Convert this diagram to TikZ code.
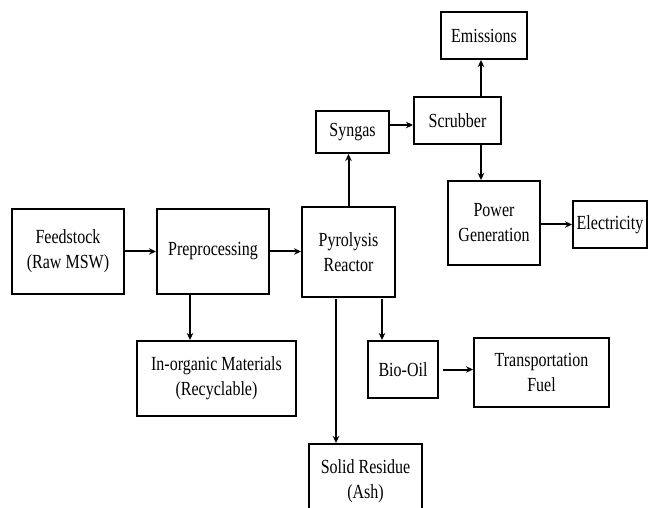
\documentclass[tikz,border=0pt]{standalone}
\usepackage{fontspec}
\setmainfont{Liberation Serif}[FakeStretch=0.8]
\usetikzlibrary{arrows.meta,calc}
\begin{document}
\begin{tikzpicture}[x=1pt,y=-1pt,
  box/.style={draw,line width=2pt,align=center,inner sep=0pt,
    font=\fontsize{20}{25}\selectfont},
  arr/.style={line width=2pt,-{Stealth[length=7pt,width=6.5pt]}},
  thinarr/.style={line width=1.5pt,-{Stealth[length=7pt,width=6.5pt]}}]
\useasboundingbox (0,0) rectangle (649,508);
\fill[white] (0,0) rectangle (649,508);
\clip (0,0) rectangle (649,508);
\node[box,minimum width=86pt,minimum height=47pt] (emis) at (484,35.5) {Emissions};
\node[box,minimum width=87pt,minimum height=47pt] (scrub) at (457.5,120.5) {Scrubber};
\node[box,minimum width=73pt,minimum height=42pt] (syngas) at (352.5,132) {Syngas};
\node[box,minimum width=92pt,minimum height=84pt] (power) at (494,223) {Power\\Generation};
\node[box,minimum width=74pt,minimum height=47pt] (elec) at (610,224.5) {Electricity};
\node[box,minimum width=112pt,minimum height=85pt] (feed) at (68,251.5) {Feedstock\\(Raw MSW)};
\node[box,minimum width=112pt,minimum height=85pt] (prep) at (213,251.5) {Preprocessing};
\node[box,minimum width=93pt,minimum height=90pt] (pyro) at (348.5,252) {Pyrolysis\\Reactor};
\node[box,minimum width=159pt,minimum height=75pt] (inorg) at (216.5,378.5) {In-organic Materials\\(Recyclable)};
\node[box,minimum width=70pt,minimum height=57pt] (bio) at (403,369.5) {Bio-Oil};
\node[box,minimum width=135pt,minimum height=69pt] (trans) at (541.5,372.5) {Transportation\\Fuel};
\node[box,minimum width=113pt,minimum height=75pt] (solid) at (365.5,481.5) {Solid Residue\\(Ash)};
% connectors
\draw[arr] (feed.east |- prep.west) -- (prep.west);
\draw[arr] (prep.east) -- (prep.east -| pyro.west);
\draw[arr] ([xshift=-23pt]prep.south) -- ([xshift=-23pt]prep.south |- inorg.north);
\draw[arr] (pyro.north) -- (pyro.north |- syngas.south);
\draw[arr] ([yshift=-4.5pt]scrub.west -| syngas.east) -- ([yshift=-4.5pt]scrub.west);
\draw[arr] ([xshift=-3pt]emis.south |- scrub.north) -- ([xshift=-3pt]emis.south);
\draw[arr] ([xshift=-3pt]emis.south |- scrub.south) -- ([xshift=-3pt]emis.south |- power.north);
\draw[arr] (power.east |- elec.west) -- (elec.west);
\draw[arr] ([xshift=33.5pt,yshift=-1pt]pyro.south) -- ([xshift=33.5pt]pyro.south |- bio.north);
\draw[thinarr] ([xshift=-12.5pt,yshift=-1pt]pyro.south) -- ([xshift=-12.5pt]pyro.south |- solid.north);
\draw[arr] ([xshift=4pt]bio.east) -- (bio.east -| trans.west);
\end{tikzpicture}
\end{document}
